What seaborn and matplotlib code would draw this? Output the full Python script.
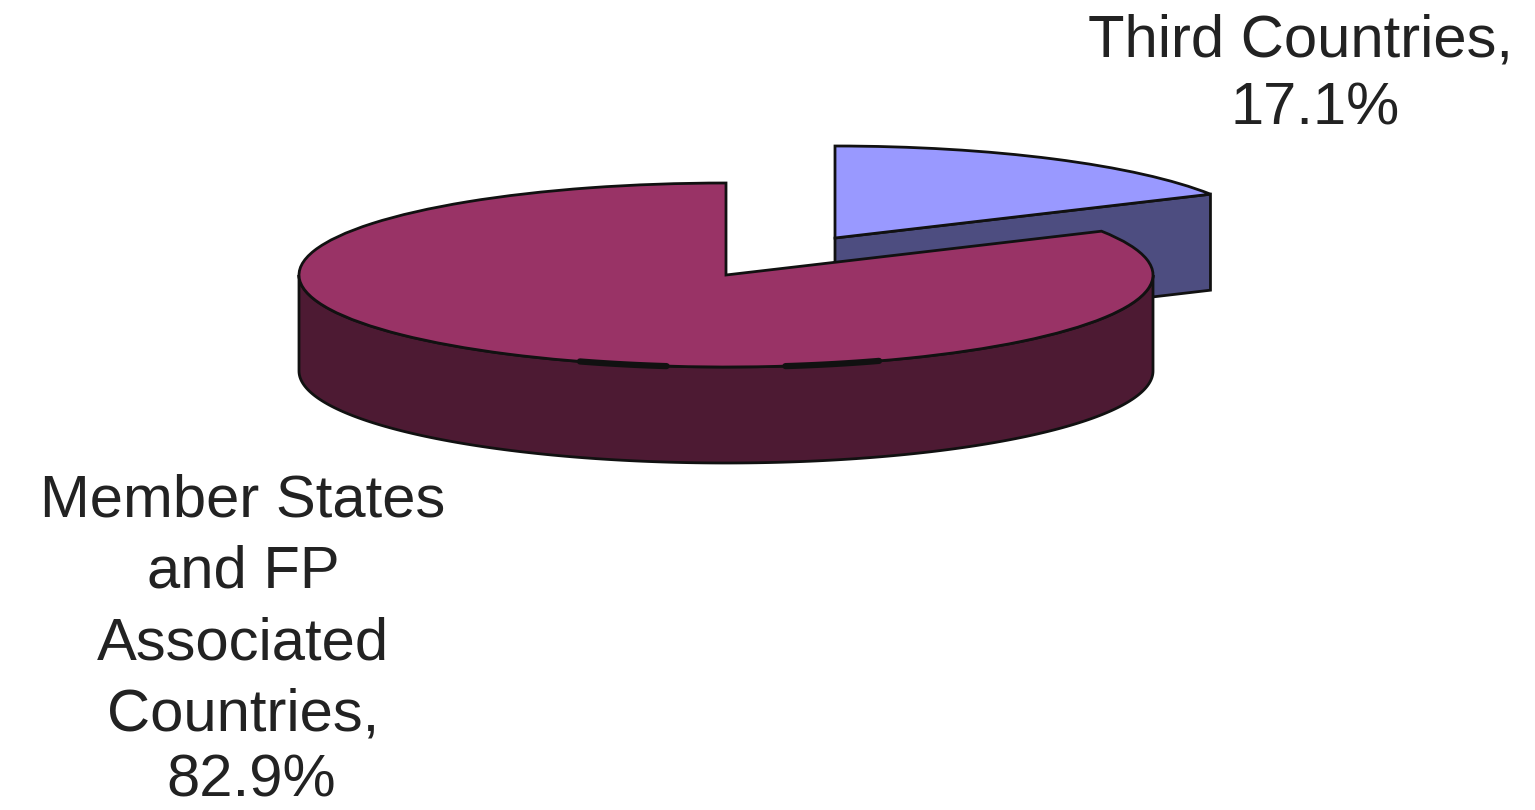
import numpy as np
import matplotlib
matplotlib.use("Agg")
import matplotlib.pyplot as plt
import seaborn as sns

categories = ["Member States\nand FP\nAssociated\nCountries,", "Third Countries,"]
shares = [82.9, 17.1]
top_colors = ["#993366", "#9999FF"]
side_colors = ["#4D1A33", "#4D4D80"]

sns.set_theme(style="white")
plt.rcParams['font.family'] = ['Liberation Sans', 'DejaVu Sans']

W, H = 1535, 810
RX, RY, DEPTH = 427.0, 92.0, 96.0
CX, CY = 726.0, 275.0
OFFSET = (109.0 / RX, 37.0 / RY)      # explosion of the small slice
d = DEPTH / RY
EDGE = "#111111"
LW = 2.0

fig = plt.figure(figsize=(W / 100, H / 100), dpi=100)
ax = fig.add_axes([0, 0, 1, 1])

# angle where the small slice ends, measured clockwise from 12 o'clock
th = np.deg2rad(90 - 360 * shares[1] / 100)

# side of the small slice (radial cut face)
ox, oy = OFFSET
ax.fill([ox, ox + np.cos(th), ox + np.cos(th), ox],
        [oy, oy + np.sin(th), oy + np.sin(th) - d, oy - d],
        facecolor=side_colors[1], edgecolor=EDGE, lw=LW, zorder=1)
# top of the small slice
w2, _ = ax.pie([shares[1], shares[0]], startangle=90, counterclock=False,
               center=OFFSET, radius=1, colors=[top_colors[1], "none"],
               wedgeprops=dict(edgecolor=EDGE, linewidth=LW))
w2[0].set_zorder(2)
w2[1].set_visible(False)

# rim of the big slice
t = np.deg2rad(np.linspace(180, 360, 200))
xs = np.r_[np.cos(t), np.cos(t[::-1])]
ys = np.r_[np.sin(t), np.sin(t[::-1]) - d]
ax.fill(xs, ys, facecolor=side_colors[0], edgecolor=EDGE, lw=LW, zorder=3)
# top of the big slice
w1, _ = ax.pie([shares[1], shares[0]], startangle=90, counterclock=False,
               center=(0, 0), radius=1, colors=["none", top_colors[0]],
               wedgeprops=dict(edgecolor=EDGE, linewidth=LW))
w1[1].set_zorder(4)
w1[0].set_visible(False)

# heavier stretches of the front outline
for a0, a1 in [(250, 262), (278, 291)]:
    a = np.deg2rad(np.linspace(a0, a1, 30))
    ax.plot(np.cos(a), np.sin(a), color="#111111", lw=4.5, zorder=5,
            solid_capstyle="round")

ax.set_aspect("auto")
ax.set_xlim(-CX / RX, (W - CX) / RX)
ax.set_ylim((CY - H) / RY, CY / RY)
ax.set_xticks([])
ax.set_yticks([])
ax.axis("off")

def px(x, y):
    return (x - CX) / RX, (CY - y) / RY

FS = 43
TXT = "#222222"
ax.text(*px(1300, 41), categories[1], ha="center", va="center",
        fontsize=FS, color=TXT, zorder=6)
ax.text(*px(1315, 109), f"{shares[1]}%", ha="center", va="center",
        fontsize=FS, color=TXT, zorder=6)
ax.text(*px(243, 608), categories[0], ha="center", va="center",
        fontsize=FS, color=TXT, linespacing=1.38, zorder=6)
ax.text(*px(251, 781), f"{shares[0]}%", ha="center", va="center",
        fontsize=FS, color=TXT, zorder=6)

fig.savefig("out.png", dpi=100, facecolor="white")
